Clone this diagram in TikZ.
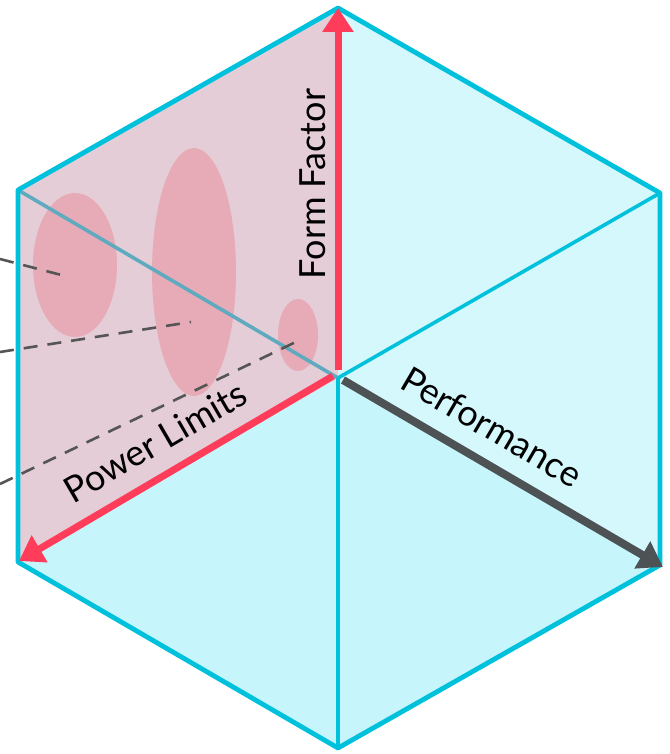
\documentclass[tikz,border=0pt]{standalone}
\usepackage{fontspec}
\setmainfont{Lato}
\usetikzlibrary{arrows.meta,shapes.geometric}
\definecolor{cubeCyan}{HTML}{00C1DC}
\definecolor{cubeSteel}{HTML}{5FAABF}
\definecolor{cubePink}{HTML}{E4CDD6}
\definecolor{cubeSky}{HTML}{D5F8FC}
\definecolor{cubeSkyDeep}{HTML}{C6F6FC}
\definecolor{blobRose}{HTML}{E99AA8}
\definecolor{axisRed}{HTML}{FF3D5A}
\definecolor{axisInk}{HTML}{4D5354}
\definecolor{tagGrey}{HTML}{555555}
\tikzset{
  hexEdge/.style={
    draw=cubeCyan,
    line width=2.4pt,
    line join=round
  },
  innerEdge/.style={
    draw=cubeCyan,
    line width=1.8pt
  },
  hiddenEdge/.style={
    draw=cubeSteel,
    line width=1.8pt
  },
  blob/.style={
    ellipse,
    fill=blobRose,
    fill opacity=0.65,
    inner sep=0pt
  },
  tagLine/.style={
    dash pattern=on 7pt off 5pt,
    line width=1.3pt,
    draw=tagGrey
  },
  redAxis/.style={
    -{Triangle[width=15pt,length=12pt]},
    line width=3.5pt,
    draw=axisRed
  },
  inkAxis/.style={
    -{Triangle[width=15pt,length=12pt]},
    line width=4pt,
    draw=axisInk
  },
  axisLabel/.style={
    font=\fontsize{18}{21}\selectfont,
    inner sep=1pt
  }
}
\begin{document}
\begin{tikzpicture}[x=0.5pt,y=-0.5pt]
  \useasboundingbox (0,0) rectangle (669,754);
  % corners of the cube
  \coordinate (top) at (338,8);
  \coordinate (upLeft) at (18,190);
  \coordinate (upRight) at (660,193);
  \coordinate (lowLeft) at (18,562);
  \coordinate (lowRight) at (660,565);
  \coordinate (bottom) at (338,748);
  \coordinate (centre) at (338,378);
  % faces
  \fill[cubeSky] (top) -- (upRight) -- (lowRight) -- (centre) -- cycle;
  \fill[cubeSkyDeep] (lowLeft) -- (centre) -- (lowRight) -- (bottom) -- cycle;
  \fill[cubePink] (top) -- (upLeft) -- (lowLeft) -- (centre) -- cycle;
  % clusters
  \node[blob,minimum width=42pt,minimum height=72pt] (blobSmall) at (75,265) {};
  \node[blob,minimum width=42pt,minimum height=124pt] (blobTall) at (194,272) {};
  \node[blob,minimum width=20pt,minimum height=36pt] (blobTiny) at (298,335) {};
  % edges
  \draw[hiddenEdge] (upLeft) -- (centre);
  \draw[innerEdge] (centre) -- (upRight);
  \draw[innerEdge] (centre) -- (bottom);
  \draw[hexEdge] (top) -- (upLeft) -- (lowLeft) -- (bottom) -- (lowRight) -- (upRight) -- cycle;
  % callouts
  \coordinate (tagA) at (0,259);
  \coordinate (tagB) at (0,352);
  \coordinate (tagC) at (0,484);
  \coordinate (pinA) at (69,277);
  \coordinate (pinB) at (191,322);
  \coordinate (pinC) at (302,339);
  \draw[tagLine] (tagA) -- (pinA);
  \draw[tagLine] (tagB) -- (pinB);
  \draw[tagLine] (tagC) -- (pinC);
  % axes
  \coordinate (formStart) at (338,370);
  \coordinate (powerStart) at (333,376);
  \coordinate (perfStart) at (343,380);
  \coordinate (powerEnd) at (19,561);
  \coordinate (perfEnd) at (663,567);
  \draw[redAxis] (formStart) -- (top);
  \draw[redAxis] (powerStart) -- (powerEnd);
  \draw[inkAxis] (perfStart) -- (perfEnd);
  \node[axisLabel,rotate=90] (formLabel) at (313,184) {Form Factor};
  \node[axisLabel,rotate=30.2] (powerLabel) at (155,442) {Power Limits};
  \node[axisLabel,rotate=-30.4] (perfLabel) at (492,427) {Performance};
\end{tikzpicture}
\end{document}
